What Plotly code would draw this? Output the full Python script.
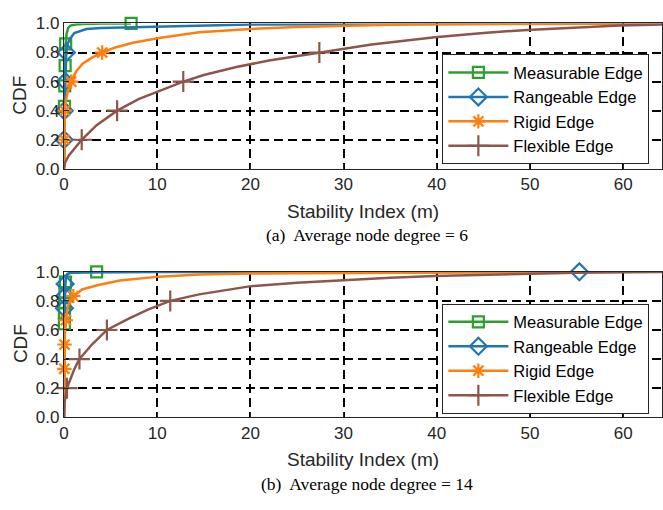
import plotly.graph_objects as go

# ---------------- data ----------------
series_names = ["Measurable Edge", "Rangeable Edge", "Rigid Edge", "Flexible Edge"]
series_colors = ["#2ca02c", "#1f77b4", "#ff7f0e", "#8c564b"]
series_symbols = ["square-open", "diamond-open", "asterisk-open", "cross-thin-open"]
series_msizes = [11, 13, 12, 15]

x_ticks = [0, 10, 20, 30, 40, 50, 60]
y_ticks = [0.0, 0.2, 0.4, 0.6, 0.8, 1.0]
captions = ["(a)&nbsp; Average node degree = 6", "(b)&nbsp; Average node degree = 14"]

# Panel (a): average node degree = 6
a_meas_x = [0, 0.01, 0.03, 0.05, 0.08, 0.12, 0.18, 0.28, 0.45, 0.7, 1.2, 2.0, 4.0, 7.2]
a_meas_y = [0, 0.14, 0.29, 0.43, 0.57, 0.71, 0.86, 0.93, 0.97, 0.985, 0.993, 0.997, 0.999, 1.0]
a_meas_mx = [0.05, 0.08, 0.12, 0.18, 7.2]
a_meas_my = [0.43, 0.57, 0.71, 0.86, 1.0]

a_rang_x = [0, 0.01, 0.03, 0.07, 0.14, 0.25, 0.4, 0.6, 1.1, 2.4, 4.0, 7.4, 14.5, 20, 30, 40, 50, 64.2]
a_rang_y = [0, 0.2, 0.4, 0.5, 0.6, 0.8, 0.86, 0.89, 0.934, 0.962, 0.968, 0.973, 0.988, 0.992, 0.995, 0.998, 0.999, 1.0]
a_rang_mx = [0.01, 0.03, 0.14, 0.25]
a_rang_my = [0.2, 0.4, 0.6, 0.8]

a_rigid_x = [0, 0.02, 0.05, 0.08, 0.1, 0.2, 0.4, 0.77, 1.3, 2.0, 3.0, 4.1, 5.5, 7.4, 10.2, 14.5, 20, 25, 29.5, 35, 40, 50, 64.2]
a_rigid_y = [0, 0.1, 0.2, 0.3, 0.4, 0.47, 0.53, 0.6, 0.67, 0.723, 0.765, 0.8, 0.835, 0.867, 0.9, 0.94, 0.962, 0.976, 0.985, 0.991, 0.995, 0.998, 1.0]
a_rigid_mx = [0.05, 0.1, 0.77, 4.1]
a_rigid_my = [0.2, 0.4, 0.6, 0.8]

a_flex_x = [0, 0.1, 0.5, 1.0, 1.9, 3.5, 5.7, 8, 10, 12.8, 15, 18.5, 22, 27.4, 33, 39.8, 45, 49.7, 55, 59.6, 64.2]
a_flex_y = [0, 0.04, 0.09, 0.13, 0.2, 0.3, 0.4, 0.48, 0.53, 0.6, 0.645, 0.7, 0.745, 0.8, 0.855, 0.905, 0.935, 0.955, 0.972, 0.985, 0.993]
a_flex_mx = [1.9, 5.7, 12.8, 27.4]
a_flex_my = [0.2, 0.4, 0.6, 0.8]

# Panel (b): average node degree = 14
b_meas_x = [0, 0.01, 0.02, 0.03, 0.04, 0.05, 0.07, 0.1, 0.15, 0.25, 0.5, 1.0, 2.0, 3.5]
b_meas_y = [0, 0.2, 0.4, 0.55, 0.643, 0.714, 0.786, 0.857, 0.929, 0.97, 0.99, 0.997, 0.999, 1.0]
b_meas_mx = [0.04, 0.05, 0.07, 0.1, 0.15, 3.5]
b_meas_my = [0.643, 0.714, 0.786, 0.857, 0.929, 1.0]

b_rang_x = [0, 0.01, 0.02, 0.03, 0.05, 0.08, 0.12, 0.2, 0.35, 0.7, 2, 10, 30, 55.3]
b_rang_y = [0, 0.2, 0.45, 0.6, 0.75, 0.833, 0.917, 0.96, 0.985, 0.993, 0.996, 0.998, 0.999, 1.0]
b_rang_mx = [0.05, 0.08, 0.12, 55.3]
b_rang_my = [0.75, 0.833, 0.917, 1.0]

b_rigid_x = [0, 0.02, 0.04, 0.06, 0.1, 0.2, 0.4, 1.0, 2, 3.8, 6, 10.2, 14.5, 20, 30, 40, 50, 64.2]
b_rigid_y = [0, 0.167, 0.333, 0.5, 0.58, 0.667, 0.76, 0.833, 0.88, 0.911, 0.94, 0.967, 0.982, 0.989, 0.993, 0.996, 0.998, 1.0]
b_rigid_mx = [0.04, 0.06, 0.2, 1.0]
b_rigid_my = [0.333, 0.5, 0.667, 0.833]

b_flex_x = [0, 0.05, 0.32, 0.7, 1.1, 1.66, 3, 4.6, 7, 9, 11.4, 14.5, 19.9, 25, 29.8, 35, 39.8, 45, 49.7, 55, 60, 64.2]
b_flex_y = [0, 0.1, 0.2, 0.27, 0.33, 0.4, 0.5, 0.6, 0.68, 0.74, 0.8, 0.845, 0.9, 0.925, 0.944, 0.96, 0.971, 0.98, 0.989, 0.994, 0.997, 0.999]
b_flex_mx = [0.32, 1.66, 4.6, 11.4]
b_flex_my = [0.2, 0.4, 0.6, 0.8]

panel_a = [(a_meas_x, a_meas_y, a_meas_mx, a_meas_my),
           (a_rang_x, a_rang_y, a_rang_mx, a_rang_my),
           (a_rigid_x, a_rigid_y, a_rigid_mx, a_rigid_my),
           (a_flex_x, a_flex_y, a_flex_mx, a_flex_my)]
panel_b = [(b_meas_x, b_meas_y, b_meas_mx, b_meas_my),
           (b_rang_x, b_rang_y, b_rang_mx, b_rang_my),
           (b_rigid_x, b_rigid_y, b_rigid_mx, b_rigid_my),
           (b_flex_x, b_flex_y, b_flex_mx, b_flex_my)]

# ---------------- layout geometry ----------------
W, H = 663, 510
L = 64
PW = W - L

def px(x):
    return (x - L) / PW

def py(y):
    return 1 - y / H

TEXT = "#262626"
SANS = "Liberation Sans, Arial, sans-serif"
SERIF = "Liberation Serif, Times New Roman, serif"

fig = go.Figure()

for pi, (panel, xa, ya, leg) in enumerate([(panel_a, "x", "y", "legend"), (panel_b, "x2", "y2", "legend2")]):
    for si, (lx, ly, mx, my) in enumerate(panel):
        col = series_colors[si]
        fig.add_trace(go.Scatter(x=lx, y=ly, mode="lines", xaxis=xa, yaxis=ya,
                                 line=dict(color=col, width=2.5), showlegend=False,
                                 hoverinfo="skip"))
        fig.add_trace(go.Scatter(x=mx, y=my, mode="markers", xaxis=xa, yaxis=ya,
                                 marker=dict(symbol=series_symbols[si], size=series_msizes[si],
                                             color=col, line=dict(color=col, width=2.2)),
                                 showlegend=False, cliponaxis=False))
    for si in range(4):
        col = series_colors[si]
        fig.add_trace(go.Scatter(x=[None], y=[None], mode="lines+markers", xaxis=xa, yaxis=ya,
                                 name=series_names[si], legend=leg,
                                 line=dict(color=col, width=2.5),
                                 marker=dict(symbol=series_symbols[si], size=series_msizes[si],
                                             color=col, line=dict(color=col, width=2.2))))

axis_common = dict(showline=True, linecolor=TEXT, linewidth=1.3, mirror=True,
                   ticks="inside", ticklen=5, tickcolor=TEXT, tickwidth=1.3,
                   showgrid=True, gridcolor="black", gridwidth=1.5,
                   griddash="9px,5px", zeroline=False,
                   tickfont=dict(family=SANS, size=17, color=TEXT))

xa_kw = dict(axis_common, range=[0, (W - 64.3) / 9.33], tickvals=x_ticks, domain=[0, 1])
ya_kw = dict(axis_common, range=[0, 1], tickvals=y_ticks, tickformat=".1f")

leg_common = dict(xanchor="left", yanchor="top",
                  bgcolor="white", bordercolor=TEXT, borderwidth=1,
                  font=dict(family=SANS, size=16.5, color="black"),
                  itemwidth=60, tracegroupgap=0)

fig.update_layout(
    width=W, height=H,
    margin=dict(l=L, r=0, t=0, b=0),
    paper_bgcolor="white", plot_bgcolor="white",
    xaxis=dict(xa_kw, anchor="y"),
    yaxis=dict(ya_kw, domain=[py(166), py(15)], anchor="x"),
    xaxis2=dict(xa_kw, anchor="y2"),
    yaxis2=dict(ya_kw, domain=[py(424), py(273)], anchor="x2"),
    legend=dict(leg_common, x=px(443), y=py(47)),
    legend2=dict(leg_common, x=px(443), y=py(306)),
    showlegend=True,
)

annots = []
for off, cap in zip([0, 258], captions):
    annots.append(dict(text="Stability Index (m)", x=px(364), y=py(210 + off), xref="paper", yref="paper",
                       showarrow=False, xanchor="center", yanchor="middle",
                       font=dict(family=SANS, size=19, color=TEXT)))
    annots.append(dict(text=cap, x=px(368), y=py(235 + off), xref="paper", yref="paper",
                       showarrow=False, xanchor="center", yanchor="middle",
                       font=dict(family=SERIF, size=17.5, color="black")))
    annots.append(dict(text="CDF", x=px(20), y=py(90 + off), xref="paper", yref="paper",
                       showarrow=False, xanchor="center", yanchor="middle", textangle=-90,
                       font=dict(family=SANS, size=19, color=TEXT)))
fig.update_layout(annotations=annots)

fig.write_html("out.html")
